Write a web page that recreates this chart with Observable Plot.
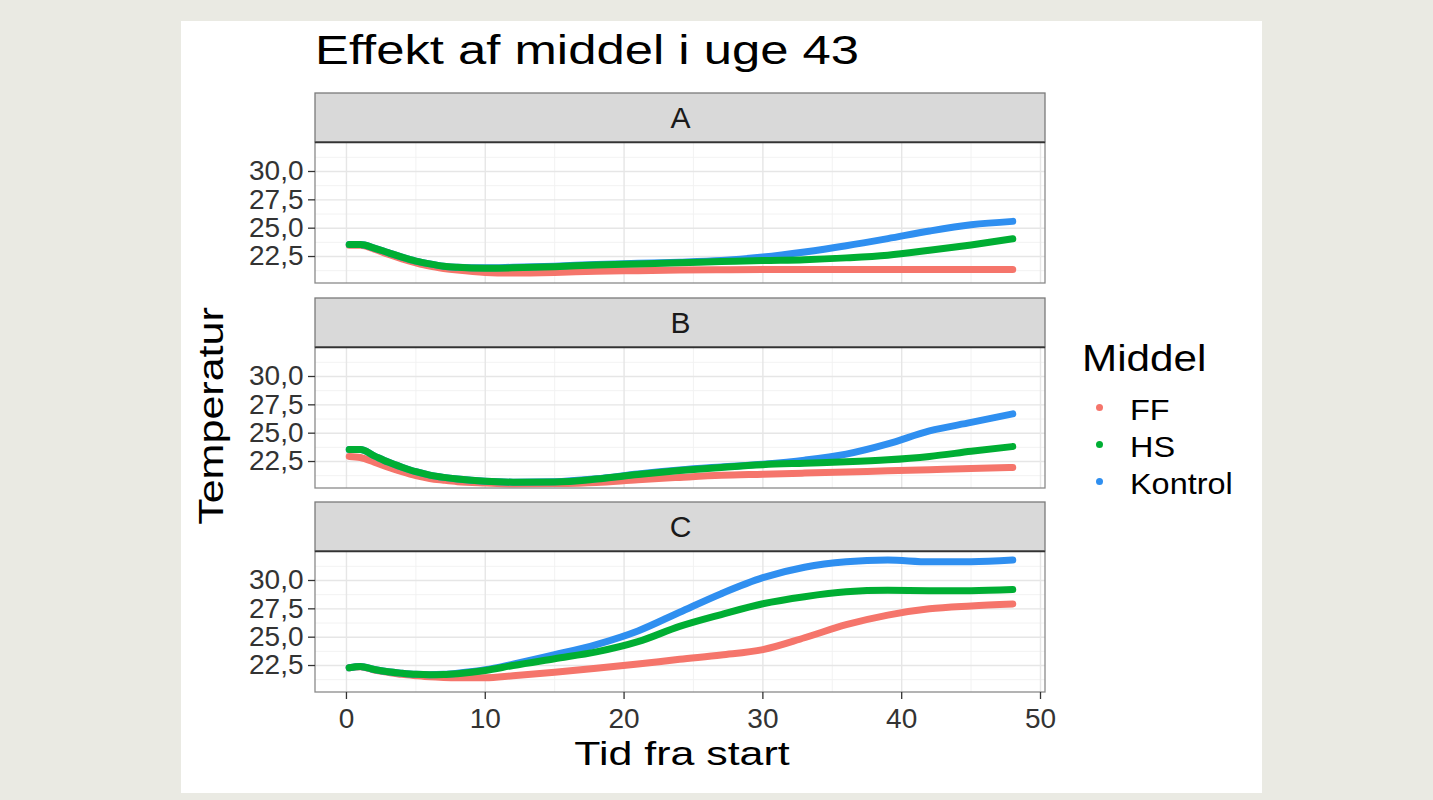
<!DOCTYPE html>
<html><head><meta charset="utf-8">
<script src="https://cdn.jsdelivr.net/npm/d3@7"></script>
<script src="https://cdn.jsdelivr.net/npm/@observablehq/plot@0.6"></script>
<style>
html,body{margin:0;padding:0;background:#eaeae3;width:1433px;height:800px;overflow:hidden;font-family:"Liberation Sans",Arial,sans-serif;}
#card{position:absolute;left:181px;top:21px;width:1081px;height:772px;background:#fff;}
.t{position:absolute;white-space:nowrap;line-height:1;color:#000;}
.dot{position:absolute;width:7px;height:7px;border-radius:50%;}
svg.panel{position:absolute;left:200px;}
</style></head><body>
<div id="card"></div>
<div id="root"></div>
<script>
// ---- data ----
const title = "Effekt af middel i uge 43";
const xLabel = "Tid fra start";
const yLabel = "Temperatur";
const legendTitle = "Middel";
const panels = ["A", "B", "C"];
const series = ["FF", "HS", "Kontrol"];
const colors = ["#F5756B", "#00AE33", "#2F8FF0"];
const xTicks = [0, 10, 20, 30, 40, 50];
const xMinor = [5, 15, 25, 35, 45];
const yTicks = [22.5, 25, 27.5, 30];
const yMinor = [21.25, 23.75, 26.25, 28.75, 31.25];

const tid = [0.2, 1, 2, 3, 4, 5, 6, 7, 8, 10, 12, 15, 18, 21, 24, 27, 30, 33, 36, 39, 42, 45, 48];

const A_FF      = [23.5, 23.5, 23.15, 22.7, 22.3, 21.95, 21.65, 21.45, 21.3, 21.1, 21.05, 21.1, 21.2, 21.25, 21.3, 21.33, 21.35, 21.35, 21.35, 21.35, 21.35, 21.35, 21.35];
const A_HS      = [23.55, 23.55, 23.25, 22.85, 22.45, 22.1, 21.85, 21.65, 21.55, 21.47, 21.5, 21.6, 21.75, 21.85, 21.95, 22.05, 22.15, 22.22, 22.38, 22.62, 23.05, 23.52, 24.06];
const A_Kontrol = [23.55, 23.55, 23.25, 22.85, 22.45, 22.1, 21.85, 21.65, 21.55, 21.5, 21.55, 21.65, 21.8, 21.9, 22.0, 22.15, 22.45, 22.9, 23.45, 24.08, 24.75, 25.3, 25.6];

const B_FF      = [22.95, 22.85, 22.45, 22.0, 21.6, 21.25, 21.0, 20.85, 20.72, 20.6, 20.52, 20.55, 20.65, 20.9, 21.1, 21.28, 21.38, 21.48, 21.58, 21.68, 21.78, 21.88, 21.97];
const B_HS      = [23.55, 23.55, 23.0, 22.45, 22.0, 21.6, 21.3, 21.1, 20.95, 20.75, 20.68, 20.7, 20.95, 21.35, 21.7, 21.98, 22.22, 22.35, 22.47, 22.65, 22.95, 23.4, 23.82];
const B_Kontrol = [23.55, 23.55, 23.0, 22.45, 22.0, 21.6, 21.3, 21.1, 20.95, 20.75, 20.68, 20.72, 20.98, 21.4, 21.75, 22.02, 22.27, 22.62, 23.15, 24.05, 25.2, 25.95, 26.7];

const C_FF      = [22.3, 22.4, 22.1, 21.9, 21.72, 21.6, 21.5, 21.45, 21.43, 21.43, 21.6, 21.9, 22.25, 22.63, 23.05, 23.43, 23.9, 24.95, 26.1, 26.95, 27.5, 27.75, 27.93];
const C_HS      = [22.3, 22.42, 22.15, 21.95, 21.82, 21.72, 21.68, 21.7, 21.78, 22.06, 22.5, 23.1, 23.7, 24.6, 25.95, 27.0, 27.95, 28.57, 29.0, 29.13, 29.1, 29.1, 29.2];
const C_Kontrol = [22.3, 22.42, 22.15, 21.95, 21.82, 21.72, 21.68, 21.72, 21.82, 22.12, 22.62, 23.45, 24.35, 25.55, 27.2, 28.84, 30.25, 31.17, 31.65, 31.8, 31.65, 31.65, 31.8];

const values = {
  A: {FF: A_FF, HS: A_HS, Kontrol: A_Kontrol},
  B: {FF: B_FF, HS: B_HS, Kontrol: B_Kontrol},
  C: {FF: C_FF, HS: C_HS, Kontrol: C_Kontrol}
};

// ---- scales / layout ----
const xDomain = [-2.23, 50.36];
const yBottom = 20.12, yPanelTop = 32.56, yStripTop = 36.88;
const font = '"Liberation Sans", Arial, sans-serif';
const drawOrder = ["FF", "Kontrol", "HS"];
const panelTops = {A: 93, B: 298, C: 502};

const rows = [];
for (const p of panels) for (const s of drawOrder) tid.forEach((t, i) => rows.push({panel: p, middel: s, tid: t, temp: values[p][s][i]}));

const fmt = d => d.toFixed(1).replace(".", ",");
const root = document.getElementById("root");

for (const p of panels) {
  const last = p === "C";
  const data = rows.filter(d => d.panel === p);
  const marks = [
    Plot.ruleY(yMinor, {x1: xDomain[0], x2: xDomain[1], stroke: "#f1f1f1", strokeWidth: 0.9}),
    Plot.ruleX(xMinor, {y1: yBottom, y2: yPanelTop, stroke: "#f1f1f1", strokeWidth: 0.9}),
    Plot.ruleY(yTicks, {x1: xDomain[0], x2: xDomain[1], stroke: "#e6e6e6", strokeWidth: 1.4}),
    Plot.ruleX(xTicks.filter(v => v <= xDomain[1]), {y1: yBottom, y2: yPanelTop, stroke: "#e6e6e6", strokeWidth: 1.4}),
    Plot.rect([p], {x1: xDomain[0], x2: xDomain[1], y1: yPanelTop, y2: yStripTop, fill: "#d9d9d9", stroke: "#7a7a7a", strokeWidth: 1.3}),
    Plot.text([p], {frameAnchor: "top", dy: 24.5, text: d => d, fontSize: 30, fill: "#1a1a1a", lineAnchor: "middle"}),
    Plot.line(data, {x: "tid", y: "temp", stroke: "middel", z: "middel", strokeWidth: 7, curve: "monotone-x", strokeLinecap: "round", strokeLinejoin: "round"}),
    Plot.rect([p], {x1: xDomain[0], x2: xDomain[1], y1: yBottom, y2: yPanelTop, fill: "none", stroke: "#8a8a8a", strokeWidth: 1.3}),
    Plot.ruleY([yPanelTop], {x1: xDomain[0], x2: xDomain[1], stroke: "#333", strokeWidth: 1.8}),
    Plot.axisY(yTicks, {tickSize: 7, tickPadding: 5, fontSize: 28, tickFormat: fmt, label: null, color: "#333", strokeWidth: 1.3})
  ];
  if (last) marks.push(Plot.axisX(xTicks, {tickSize: 7, tickPadding: 9, fontSize: 28, label: null, color: "#333", strokeWidth: 1.3}));
  const svg = Plot.plot({
    width: 860,
    height: 190 + (last ? 50 : 0),
    marginLeft: 115, marginRight: 15, marginTop: 0, marginBottom: last ? 50 : 0,
    x: {domain: xDomain, ...(last ? {} : {axis: null})},
    y: {domain: [yBottom, yStripTop]},
    color: {domain: series, range: colors},
    style: {fontFamily: font, background: "transparent", overflow: "visible"},
    marks
  });
  svg.classList.add("panel");
  svg.style.top = panelTops[p] + "px";
  root.appendChild(svg);
}

// ---- texts ----
function addText(txt, {left, top, size, scale = 1, origin = "0 0", extra = ""}) {
  const d = document.createElement("div");
  d.className = "t";
  d.textContent = txt;
  d.style.left = left + "px";
  d.style.top = top + "px";
  d.style.fontSize = size + "px";
  d.style.transformOrigin = origin;
  d.style.transform = extra + ` scaleX(${scale})`;
  root.appendChild(d);
  return d;
}
addText(title, {left: 315, top: 64 - 0.8465 * 40, size: 40, scale: 1.27});
addText(xLabel, {left: 681.5, top: 765 - 0.8465 * 33, size: 33, scale: 1.3, origin: "50% 50%", extra: "translateX(-50%)"});
addText(yLabel, {left: 210, top: 416, size: 35, scale: 1.23, origin: "50% 50%", extra: "translate(-50%,-50%) rotate(-90deg)"});
addText(legendTitle, {left: 1082, top: 371.7 - 0.8465 * 37, size: 37, scale: 1.14});
const legY = [407, 444, 481];
series.forEach((s, i) => {
  const dot = document.createElement("div");
  dot.className = "dot";
  dot.style.left = (1099 - 3.5) + "px";
  dot.style.top = (legY[i] - 3.5) + "px";
  dot.style.background = colors[i];
  root.appendChild(dot);
  addText(s, {left: 1130, top: legY[i] + 13.5 - 0.8465 * 30, size: 30, scale: 1.08});
});
</script>
</body></html>
